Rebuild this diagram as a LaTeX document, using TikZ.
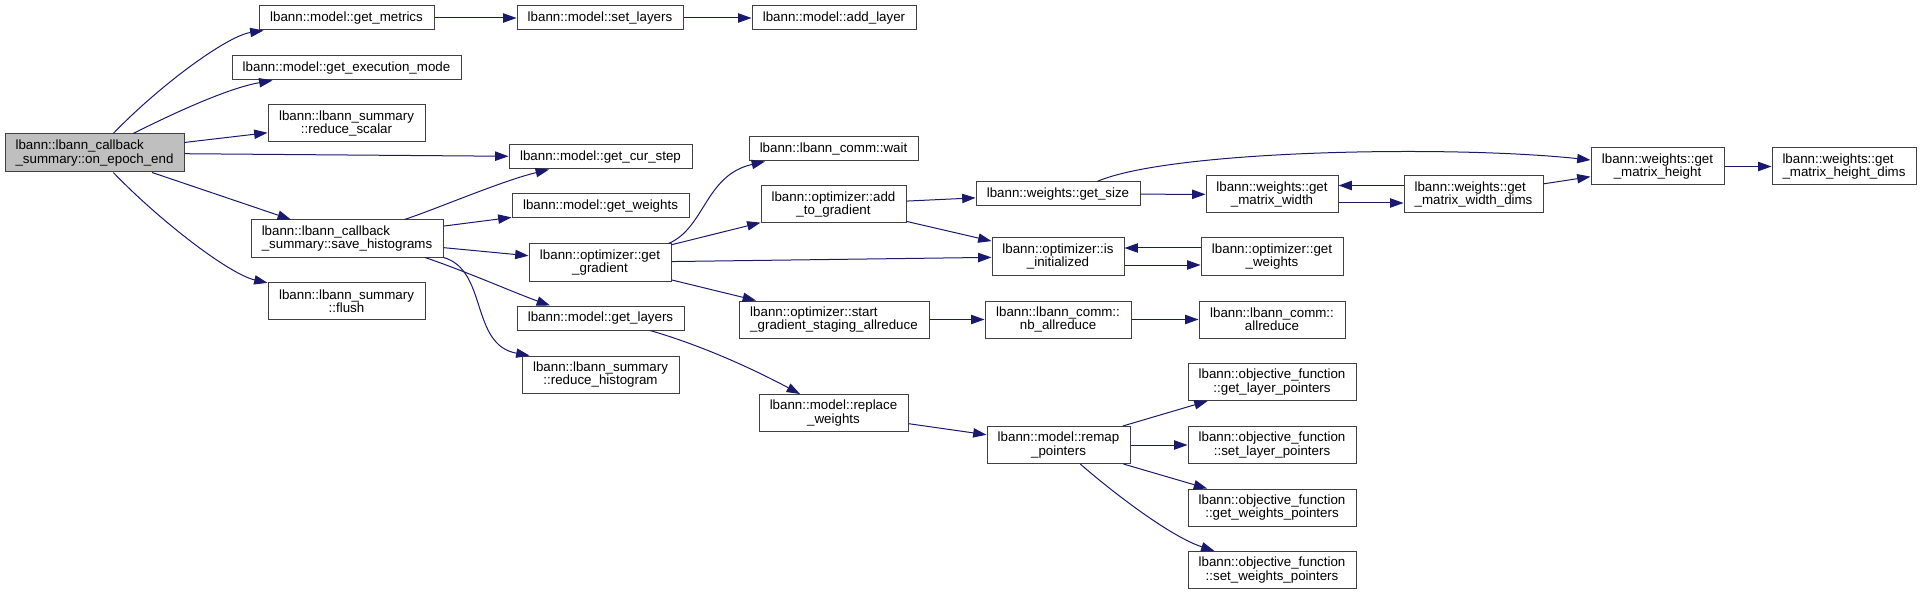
\documentclass[tikz,border=0pt]{standalone}
\usepackage{fontspec}
\setmainfont{Liberation Sans}
\usetikzlibrary{arrows.meta,calc}
\definecolor{edgecol}{HTML}{191970}
\definecolor{rootfill}{HTML}{BFBFBF}
\definecolor{bordercol}{HTML}{404040}
\begin{document}
\begin{tikzpicture}[x=0.75pt,y=-0.75pt,
  bx/.style 2 args={draw=bordercol, line width=0.75pt, fill=white, rectangle, inner sep=0pt,
    minimum width=#1*0.75pt, minimum height=#2*0.75pt,
    font=\fontsize{10}{10}\selectfont, align=center},
  ed/.style={draw=edgecol, line width=0.75pt, -{Triangle[length=10pt,width=7pt]}}]
\useasboundingbox (0,0) rectangle (1922,595);

\node[bx={179}{38},align=left,fill=rootfill] (root) at (94.5,153) {lbann::lbann\_callback\\\_summary::on\_epoch\_end};
\node[bx={175}{24}] (gm) at (346.5,18) {lbann::model::get\_metrics};
\node[bx={229}{24}] (gem) at (346.5,68) {lbann::model::get\_execution\_mode};
\node[bx={157}{37}] (rs) at (346.5,123.5) {lbann::lbann\_summary\\::reduce\_scalar};
\node[bx={192}{37},align=left] (sh) at (347,238.5) {lbann::lbann\_callback\\\_summary::save\_histograms};
\node[bx={157}{37}] (fl) at (346.5,301) {lbann::lbann\_summary\\::flush};
\node[bx={166}{24}] (sl) at (600,18) {lbann::model::set\_layers};
\node[bx={164}{24}] (al) at (834,18) {lbann::model::add\_layer};
\node[bx={183}{24}] (gcs) at (600.5,157) {lbann::model::get\_cur\_step};
\node[bx={177}{24}] (gw) at (600.5,206) {lbann::model::get\_weights};
\node[bx={142}{37}] (gg) at (600,262.5) {lbann::optimizer::get\\\_gradient};
\node[bx={167}{24}] (gl) at (600.5,318) {lbann::model::get\_layers};
\node[bx={157}{37}] (rh) at (600.5,374.5) {lbann::lbann\_summary\\::reduce\_histogram};
\node[bx={169}{24}] (wt) at (833.5,149) {lbann::lbann\_comm::wait};
\node[bx={145}{37}] (atg) at (833.5,204.5) {lbann::optimizer::add\\\_to\_gradient};
\node[bx={190}{37},align=left] (sgsa) at (834,319.5) {lbann::optimizer::start\\\_gradient\_staging\_allreduce};
\node[bx={149}{37}] (rw) at (833.5,413) {lbann::model::replace\\\_weights};
\node[bx={164}{24}] (gs) at (1058,194) {lbann::weights::get\_size};
\node[bx={132}{37}] (ii) at (1058,256.5) {lbann::optimizer::is\\\_initialized};
\node[bx={146}{37}] (nba) at (1058,319.5) {lbann::lbann\_comm::\\nb\_allreduce};
\node[bx={143}{37}] (rp) at (1058.5,445) {lbann::model::remap\\\_pointers};
\node[bx={132}{37}] (gmw) at (1272,194.5) {lbann::weights::get\\\_matrix\_width};
\node[bx={142}{37}] (ogw) at (1272,256.5) {lbann::optimizer::get\\\_weights};
\node[bx={146}{37}] (ar) at (1272,319.5) {lbann::lbann\_comm::\\allreduce};
\node[bx={168}{37}] (glp) at (1272,382) {lbann::objective\_function\\::get\_layer\_pointers};
\node[bx={168}{37}] (slp) at (1272,445) {lbann::objective\_function\\::set\_layer\_pointers};
\node[bx={168}{37}] (gwp) at (1272,507.5) {lbann::objective\_function\\::get\_weights\_pointers};
\node[bx={168}{37}] (swp) at (1272,570) {lbann::objective\_function\\::set\_weights\_pointers};
\node[bx={139}{37},align=left] (gmwd) at (1473.5,194.5) {lbann::weights::get\\\_matrix\_width\_dims};
\node[bx={133}{37}] (gmh) at (1657.5,166.5) {lbann::weights::get\\\_matrix\_height};
\node[bx={144}{37},align=left] (gmhd) at (1844,166.5) {lbann::weights::get\\\_matrix\_height\_dims};

% edges from root
\draw[ed] (root) .. controls (160,85) and (227,36) .. (gm);
\draw[ed] (root) .. controls (172,114) and (228,88) .. (gem);
\draw[ed] (root) -- (rs);
\draw[ed] (root) -- (gcs);
\draw[ed] (root) -- (sh);
\draw[ed] (root) .. controls (160,221) and (229,274) .. (fl);

\draw[ed] (gm) -- (sl);
\draw[ed] (sl) -- (al);

% edges from save_histograms
\draw[ed] (sh) .. controls (436.6,208.9) and (501.5,181) .. (gcs);
\draw[ed] (sh) -- (gw);
\draw[ed] (sh) -- (gg);
\draw[ed] ($(sh.south)+(78,0)$) .. controls (465,271) and (515,293) .. ($(gl.north)+(-50.5,0)$);
\draw[ed] (sh.south east) .. controls (488,270) and (470,345) .. ($(rh.north west)+(8,0)$);

% edges from get_gradient
\draw[ed] ($(gg.north east)+(-3,0)$) .. controls (705,228) and (705,175) .. ($(wt.south)+(-68.5,0)$);
\draw[ed] (gg) -- (atg);
\draw[ed] (gg) -- (ii);
\draw[ed] (gg) -- (sgsa);

\draw[ed] (atg) -- (gs);
\draw[ed] (atg) -- (ii);

\draw[ed] (gs) -- (gmw);
\draw[ed] ($(gs.north)+(39,0)$) .. controls (1170,150) and (1450,145) .. ($(gmh.west)+(0,-6.5)$);
\draw[ed] ($(gmw.east)+(0,8.5)$) -- ($(gmwd.west)+(0,8.5)$);
\draw[ed] ($(gmwd.west)+(0,-9)$) -- ($(gmw.east)+(0,-9)$);
\draw[ed] (gmwd) -- (gmh);
\draw[ed] (gmh) -- (gmhd);

\draw[ed] ($(ii.east)+(0,8.5)$) -- ($(ogw.west)+(0,8.5)$);
\draw[ed] ($(ogw.west)+(0,-8.5)$) -- ($(ii.east)+(0,-8.5)$);

\draw[ed] (sgsa) -- (nba);
\draw[ed] (nba) -- (ar);

\draw[ed] ($(gl.south)+(49.5,0)$) .. controls (690,342) and (740,362) .. ($(rw.north)+(-33.5,0)$);
\draw[ed] (rw) -- (rp);
\draw[ed] (rp) -- (glp);
\draw[ed] (rp) -- (slp);
\draw[ed] (rp) -- (gwp);
\draw[ed] (rp) .. controls (1110,490) and (1169,536) .. (swp);
\end{tikzpicture}
\end{document}
